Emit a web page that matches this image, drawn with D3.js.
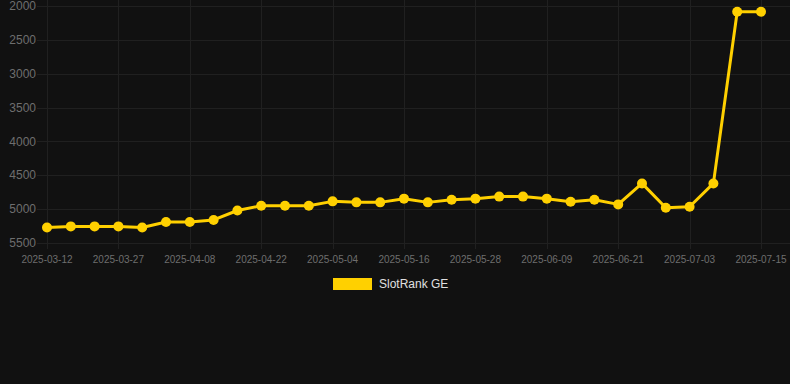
<!DOCTYPE html>
<html>
<head>
<meta charset="utf-8">
<script src="https://cdn.jsdelivr.net/npm/d3@7"></script>
<style>
	html, body { margin: 0; padding: 0; background: #111111; }
	#chart { width: 790px; height: 384px; }
</style>
</head>
<body>
<div id="chart"></div>
<script>
// dates (only every 3rd one is labelled on the axis)
var dates = [
	'2025-03-12', '2025-03-17', '2025-03-22', '2025-03-27', '2025-03-31', '2025-04-04',
	'2025-04-08', '2025-04-13', '2025-04-17', '2025-04-22', '2025-04-26', '2025-04-30',
	'2025-05-04', '2025-05-08', '2025-05-12', '2025-05-16', '2025-05-20', '2025-05-24',
	'2025-05-28', '2025-06-01', '2025-06-05', '2025-06-09', '2025-06-13', '2025-06-17',
	'2025-06-21', '2025-06-25', '2025-06-29', '2025-07-03', '2025-07-07', '2025-07-11',
	'2025-07-15'
];
var ranks = [
	5270, 5255, 5255, 5255, 5270, 5190,
	5190, 5160, 5020, 4950, 4950, 4950,
	4885, 4900, 4900, 4845, 4900, 4860,
	4845, 4815, 4815, 4845, 4890, 4860,
	4930, 4620, 4980, 4965, 4620, 2085,
	2085
];
var yTicks = [2000, 2500, 3000, 3500, 4000, 4500, 5000, 5500];
var seriesName = 'SlotRank GE';

var pad = { left: 37, top: 6, right: 790, bottom: 243 };
var lineColor = '#ffd000';
var gridColor = '#202020';
var tickColor = '#6e6e6e';

var svg = d3.select('#chart')
	.append('svg')
	.attr('width', 790)
	.attr('height', 384)
	.style('font-family', 'Liberation Sans, Arial, sans-serif');

var x = d3.scalePoint()
	.domain(dates)
	.range([47, 761]);

// rank axis is reversed: smaller number at the top
var y = d3.scaleLinear()
	.domain([2000, 5500])
	.range([pad.top, pad.bottom]);

// horizontal grid + y labels
svg.append('g')
	.selectAll('line')
	.data(yTicks)
	.enter()
	.append('line')
	.attr('x1', pad.left)
	.attr('x2', pad.right)
	.attr('y1', function (d) { return Math.round(y(d)) + 0.5; })
	.attr('y2', function (d) { return Math.round(y(d)) + 0.5; })
	.attr('stroke', gridColor);

svg.append('g')
	.selectAll('text')
	.data(yTicks)
	.enter()
	.append('text')
	.attr('x', 36)
	.attr('y', function (d) { return y(d); })
	.attr('dy', '0.35em')
	.attr('text-anchor', 'end')
	.attr('font-size', 12)
	.attr('fill', tickColor)
	.text(function (d) { return d; });

// vertical grid only at labelled dates
var shown = dates.filter(function (d, i) { return i % 3 == 0; });

svg.append('g')
	.selectAll('line')
	.data(shown)
	.enter()
	.append('line')
	.attr('x1', function (d) { return Math.round(x(d)) + 0.5; })
	.attr('x2', function (d) { return Math.round(x(d)) + 0.5; })
	.attr('y1', 0)
	.attr('y2', pad.bottom + 6)
	.attr('stroke', gridColor);

svg.append('g')
	.selectAll('text')
	.data(shown)
	.enter()
	.append('text')
	.attr('x', function (d) { return x(d); })
	.attr('y', 263)
	.attr('text-anchor', 'middle')
	.attr('font-size', 10)
	.attr('fill', tickColor)
	.text(function (d) { return d; });

// line + points
var line = d3.line()
	.x(function (d, i) { return x(dates[i]); })
	.y(function (d) { return y(d); });

svg.append('path')
	.datum(ranks)
	.attr('d', line)
	.attr('fill', 'none')
	.attr('stroke', lineColor)
	.attr('stroke-width', 3)
	.attr('stroke-linejoin', 'round');

svg.append('g')
	.selectAll('circle')
	.data(ranks)
	.enter()
	.append('circle')
	.attr('cx', function (d, i) { return x(dates[i]); })
	.attr('cy', function (d) { return y(d); })
	.attr('r', 5)
	.attr('fill', lineColor);

// legend
var legend = svg.append('g');
legend.append('rect')
	.attr('x', 333)
	.attr('y', 278)
	.attr('width', 39)
	.attr('height', 12)
	.attr('fill', lineColor);
legend.append('text')
	.attr('x', 379)
	.attr('y', 284)
	.attr('dy', '0.35em')
	.attr('font-size', 12)
	.attr('fill', '#e0e0e0')
	.text(seriesName);
</script>
</body>
</html>
